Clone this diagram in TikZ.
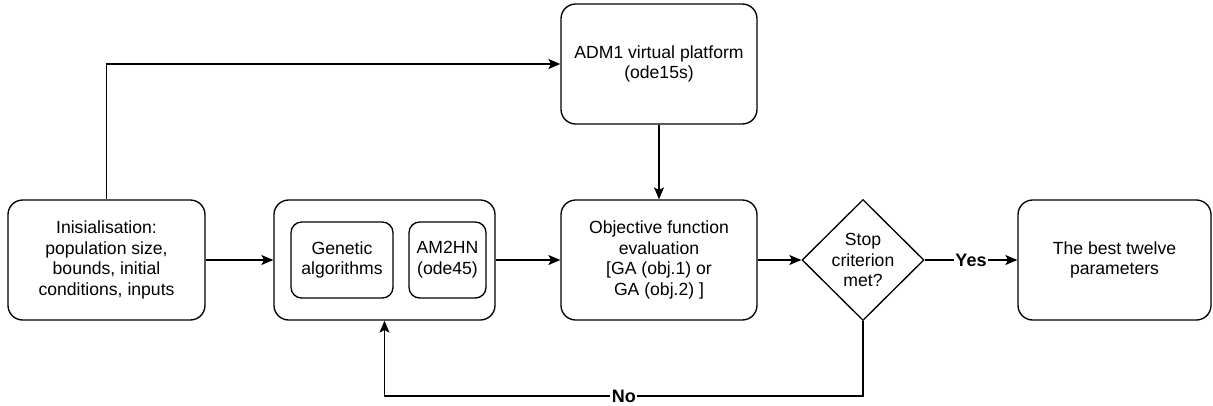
\documentclass[tikz,border=0pt]{standalone}
\usepackage{fontspec}
\setmainfont{Liberation Sans}
\usetikzlibrary{shapes.geometric,arrows.meta}
\begin{document}
\begin{tikzpicture}[x=0.75pt,y=-0.75pt,
  every node/.style={font=\fontsize{13.2pt}{15.5pt}\selectfont},
  box/.style={draw,line width=1pt,rounded corners=11pt,inner sep=0pt,align=center},
  innerbox/.style={draw,line width=1pt,rounded corners=8pt,inner sep=0pt,align=center},
  decision/.style={draw,line width=1pt,diamond,inner sep=0pt},
  conn/.style={line width=1pt,-{Stealth[length=9pt,width=7.5pt,inset=2pt]}},
  lbl/.style={fill=white,inner sep=1pt,font=\fontsize{13.5pt}{15.5pt}\selectfont\bfseries}]
\useasboundingbox (0,0) rectangle (1213,405);
\node[box,minimum width={197*0.75pt},minimum height={120*0.75pt}] (init) at (106.5,260)
  {Inisialisation:\\population size,\\bounds, initial\\conditions, inputs};
\node[box,minimum width={221*0.75pt},minimum height={120*0.75pt}] (ga) at (384.5,260) {};
\node[innerbox,minimum width={102*0.75pt},minimum height={76*0.75pt}] (gen) at (342,260) {Genetic\\algorithms};
\node[innerbox,minimum width={77*0.75pt},minimum height={76*0.75pt}] (am) at (447.5,260) {AM2HN\\(ode45)};
\node[box,minimum width={196*0.75pt},minimum height={120*0.75pt}] (obj) at (659,260)
  {Objective function\\evaluation\\{}[GA (obj.1) or\\GA (obj.2) ]};
\node[box,minimum width={196*0.75pt},minimum height={120*0.75pt}] (adm) at (659,64)
  {ADM1 virtual platform\\(ode15s)};
\node[decision,minimum width={122*0.75pt},minimum height={121*0.75pt},
  label={[align=center]center:Stop\\criterion\\met?}] (d) at (863,260) {};
\node[box,minimum width={193*0.75pt},minimum height={120*0.75pt}] (best) at (1114.5,260)
  {The best twelve\\parameters};
\draw[conn] (init.north) |- (adm.west);
\draw[conn] (adm.south) -- (obj.north);
\draw[conn] (init.east) -- (ga.west);
\draw[conn] (ga.east) -- (obj.west);
\draw[conn] (obj.east) -- (d.west);
\draw[conn] (d.east) -- node[lbl]{Yes} (best.west);
\coordinate (c1) at (863,396);
\coordinate (c2) at (384.5,396);
\draw[conn] (d.south) -- (c1) -- node[lbl]{No} (c2) -- (ga.south);
\end{tikzpicture}
\end{document}
